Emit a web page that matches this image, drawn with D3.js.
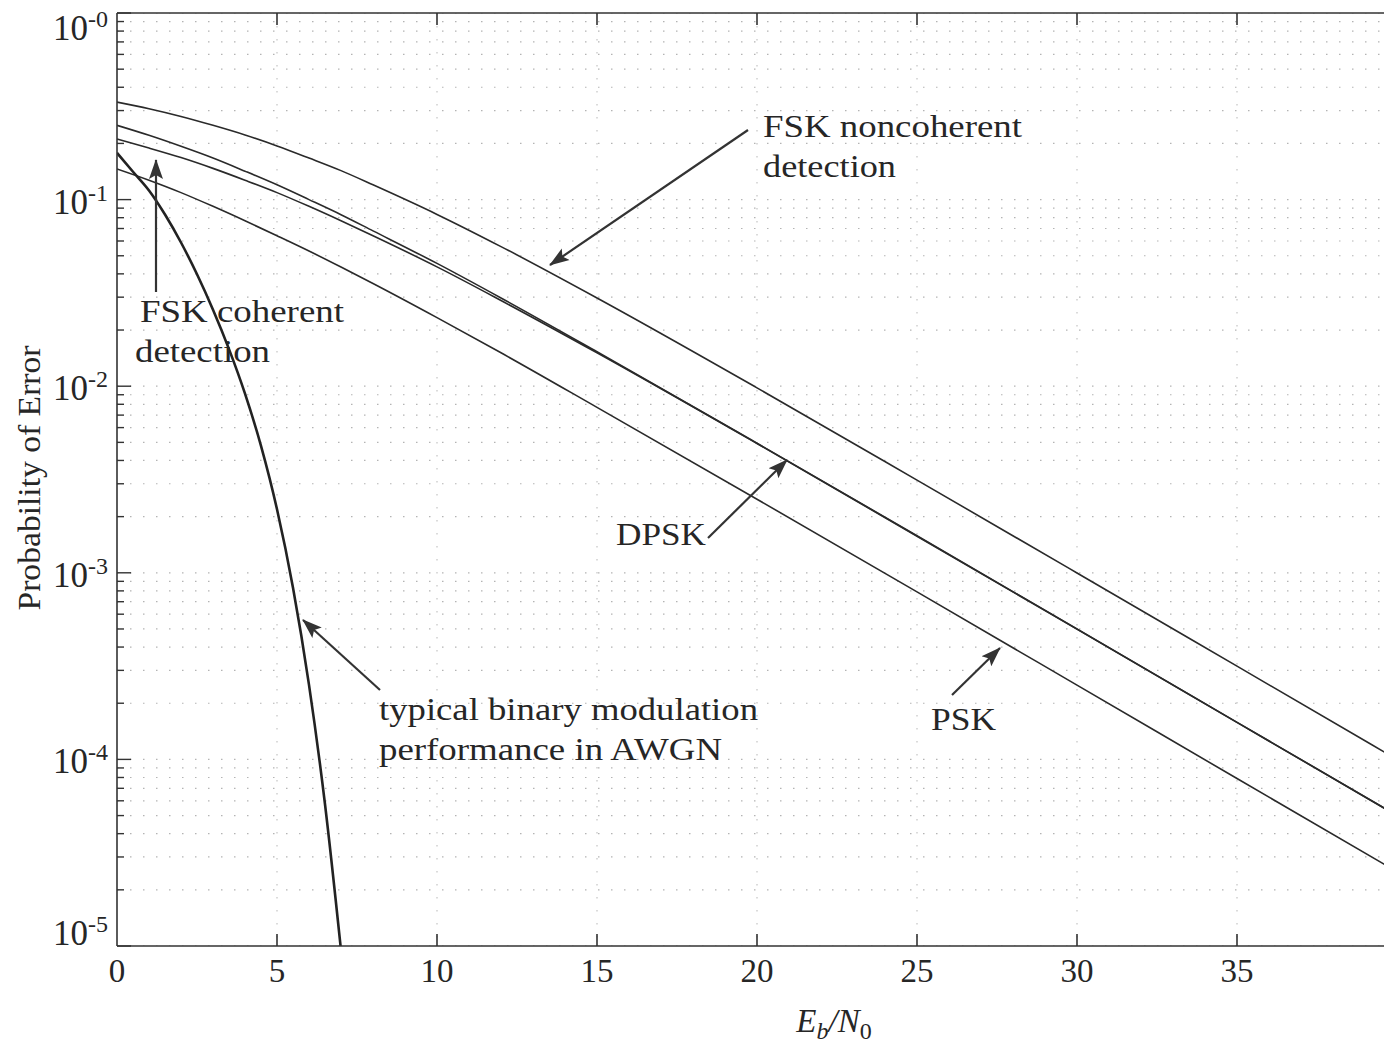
<!DOCTYPE html>
<html>
<head>
<meta charset="utf-8">
<script src="https://cdn.jsdelivr.net/npm/d3@7"></script>
<style>
  html, body { margin: 0; padding: 0; background: #fff; }
  svg { display: block; }
</style>
</head>
<body>
<svg id="chart" width="1384" height="1043"></svg>
<script>
// ---- data ----
const ebn0 = [0, 1, 2, 3, 4, 5, 6, 7, 8, 10, 12, 15, 20, 25, 30, 35, 40];
const pskRayleigh = [0.146, 0.127, 0.109, 0.092, 0.077, 0.064, 0.053, 0.0435, 0.0355, 0.0233, 0.0151, 0.0077, 0.00248, 0.00079, 0.00025, 0.000079, 0.000025];
const dpskRayleigh = [0.25, 0.221, 0.193, 0.167, 0.142, 0.120, 0.100, 0.083, 0.068, 0.0455, 0.0297, 0.0153, 0.00495, 0.00158, 0.0005, 0.000158, 0.00005];
const fskCoherentRayleigh = [0.211, 0.189, 0.168, 0.147, 0.127, 0.109, 0.092, 0.077, 0.064, 0.0436, 0.0288, 0.0151, 0.00493, 0.00157, 0.000499, 0.000158, 0.00005];
const fskNoncoherentRayleigh = [0.333, 0.307, 0.279, 0.250, 0.222, 0.194, 0.167, 0.143, 0.120, 0.0833, 0.056, 0.0297, 0.0098, 0.00314, 0.000998, 0.000316, 0.0001];
const awgnX = [0, 0.5, 1, 1.5, 2, 2.5, 3, 3.5, 4, 4.5, 5, 5.5, 6, 6.5, 7];
const awgnP = [0.178, 0.141, 0.112, 0.0832, 0.0589, 0.0398, 0.0257, 0.0158, 0.00912, 0.00479, 0.00219, 0.000832, 0.000251, 0.0000575, 0.0000095];

const xTicks = [0, 5, 10, 15, 20, 25, 30, 35];
const yDecades = [0, -1, -2, -3, -4, -5];
const yTickLabels = ["-0", "-1", "-2", "-3", "-4", "-5"];

const annotations = [
  { lines: ["FSK noncoherent", "detection"], x: 763, y: 137, widths: [259, 133], from: [748, 130], to: [550, 265] },
  { lines: ["FSK coherent", "detection"], x: 140, y: 322, widths: [204, 135], dxs: [0, -5], from: [156, 292], to: [156, 160] },
  { lines: ["DPSK"], x: 616, y: 545, widths: [90], from: [708, 538], to: [787, 460] },
  { lines: ["typical binary modulation", "performance in AWGN"], x: 379, y: 720, widths: [379, 343], from: [380, 690], to: [303, 620] },
  { lines: ["PSK"], x: 931, y: 730, widths: [65], from: [952, 695], to: [1000, 648] }
];

// ---- layout ----
const W = 1384, H = 1043;
const mLeft = 117, mTop = 13, mBottom = 946;
const FONT = "'Liberation Serif', 'Times New Roman', Times, serif";
const INK = "#262626";
const svg = d3.select("#chart").attr("font-family", FONT);
svg.append("rect").attr("width", W).attr("height", H).attr("fill", "#fff");

const x = d3.scaleLinear().domain([0, 40]).range([mLeft, mLeft + 32 * 40]);
const y = d3.scaleLog().domain([1e-5, 1]).range([mBottom, mTop]);

const defs = svg.append("defs");
defs.append("clipPath").attr("id", "plotclip")
  .append("rect").attr("x", mLeft).attr("y", mTop).attr("width", W - mLeft).attr("height", mBottom - mTop);
defs.append("marker").attr("id", "arrow")
  .attr("viewBox", "0 0 20 16").attr("refX", 19).attr("refY", 8)
  .attr("markerWidth", 20).attr("markerHeight", 16)
  .attr("markerUnits", "userSpaceOnUse").attr("orient", "auto")
  .append("path").attr("d", "M0,1 L20,8 L0,15 L4,8 Z").attr("fill", "#333");

// ---- grid ----
const grid = svg.append("g").attr("clip-path", "url(#plotclip)");
const minorVals = [];
yDecades.forEach(d => {
  for (let m = 1; m <= 9; m++) {
    const v = m * Math.pow(10, d - 1);
    if (v >= 1e-5 && v <= 1) minorVals.push(v);
  }
});
minorVals.push(1);
grid.selectAll("line.hg").data(minorVals).enter().append("line")
  .attr("x1", mLeft).attr("x2", W)
  .attr("y1", d => y(d)).attr("y2", d => y(d))
  .attr("stroke", "#b4b4b4").attr("stroke-width", 1.2)
  .attr("stroke-dasharray", "1.5,11.5");
grid.selectAll("line.vg").data(xTicks.slice(1).concat([40])).enter().append("line")
  .attr("x1", d => x(d)).attr("x2", d => x(d))
  .attr("y1", mTop).attr("y2", mBottom)
  .attr("stroke", "#c4c4c4").attr("stroke-width", 1.2)
  .attr("stroke-dasharray", "1.5,11.5");

// ---- curves ----
const lineGen = d3.line().x(d => x(d[0])).y(d => y(d[1])).curve(d3.curveMonotoneX);
const curves = svg.append("g").attr("clip-path", "url(#plotclip)");
[pskRayleigh, dpskRayleigh, fskCoherentRayleigh, fskNoncoherentRayleigh].forEach(series => {
  curves.append("path")
    .attr("d", lineGen(ebn0.map((e, i) => [e, series[i]])))
    .attr("fill", "none").attr("stroke", "#2a2a2a").attr("stroke-width", 1.6);
});
curves.append("path")
  .attr("d", lineGen(awgnX.map((e, i) => [e, awgnP[i]])))
  .attr("fill", "none").attr("stroke", "#222").attr("stroke-width", 2.6);

// ---- axes frame ----
const axisG = svg.append("g").attr("stroke", "#333").attr("stroke-width", 1.6);
axisG.append("line").attr("x1", mLeft).attr("x2", mLeft).attr("y1", mTop).attr("y2", mBottom);
axisG.append("line").attr("x1", mLeft).attr("x2", W).attr("y1", mTop).attr("y2", mTop);
axisG.append("line").attr("x1", mLeft).attr("x2", W).attr("y1", mBottom).attr("y2", mBottom);

// x ticks (bottom up, top down)
xTicks.slice(1).forEach(t => {
  axisG.append("line").attr("x1", x(t)).attr("x2", x(t)).attr("y1", mBottom).attr("y2", mBottom - 12);
  axisG.append("line").attr("x1", x(t)).attr("x2", x(t)).attr("y1", mTop).attr("y2", mTop + 12);
});
// y ticks
minorVals.forEach(v => {
  const isMajor = Math.abs(Math.log10(v) - Math.round(Math.log10(v))) < 1e-9;
  axisG.append("line").attr("x1", mLeft).attr("x2", mLeft + (isMajor ? 14 : 7))
    .attr("y1", y(v)).attr("y2", y(v)).attr("stroke-width", 1.4);
});

// x tick labels
svg.selectAll("text.xt").data(xTicks).enter().append("text")
  .attr("x", d => x(d)).attr("y", 982)
  .attr("text-anchor", "middle").attr("font-size", 33).attr("fill", INK)
  .text(d => d);

// y tick labels
yDecades.forEach((d, i) => {
  const by = Math.min(Math.max(y(Math.pow(10, d)) + 14, 40), 945);
  const t = svg.append("text").attr("x", 108).attr("y", by)
    .attr("text-anchor", "end").attr("font-size", 35).attr("fill", INK);
  t.append("tspan").text("10");
  t.append("tspan").attr("dy", -13).attr("font-size", 24).text(yTickLabels[i]);
});

// axis titles
const xt = svg.append("text").attr("x", 834).attr("y", 1032)
  .attr("text-anchor", "middle").attr("font-size", 33).attr("font-style", "italic").attr("fill", INK);
xt.append("tspan").text("E");
xt.append("tspan").attr("dy", 7).attr("font-size", 24).text("b");
xt.append("tspan").attr("dy", -7).text("/N");
xt.append("tspan").attr("dy", 7).attr("font-size", 24).attr("font-style", "normal").text("0");

svg.append("text")
  .attr("transform", "translate(40,478) rotate(-90)")
  .attr("text-anchor", "middle").attr("font-size", 32).attr("fill", INK)
  .attr("textLength", 265).attr("lengthAdjust", "spacingAndGlyphs")
  .text("Probability of Error");

// ---- annotations ----
annotations.forEach(a => {
  a.lines.forEach((ln, i) => {
    svg.append("text")
      .attr("x", a.x + ((a.dxs && a.dxs[i]) || 0)).attr("y", a.y + i * 40)
      .attr("font-size", 32).attr("fill", INK)
      .attr("textLength", a.widths[i]).attr("lengthAdjust", "spacingAndGlyphs")
      .text(ln);
  });
  svg.append("line")
    .attr("x1", a.from[0]).attr("y1", a.from[1])
    .attr("x2", a.to[0]).attr("y2", a.to[1])
    .attr("stroke", "#333").attr("stroke-width", 2.2)
    .attr("marker-end", "url(#arrow)");
});
</script>
</body>
</html>
